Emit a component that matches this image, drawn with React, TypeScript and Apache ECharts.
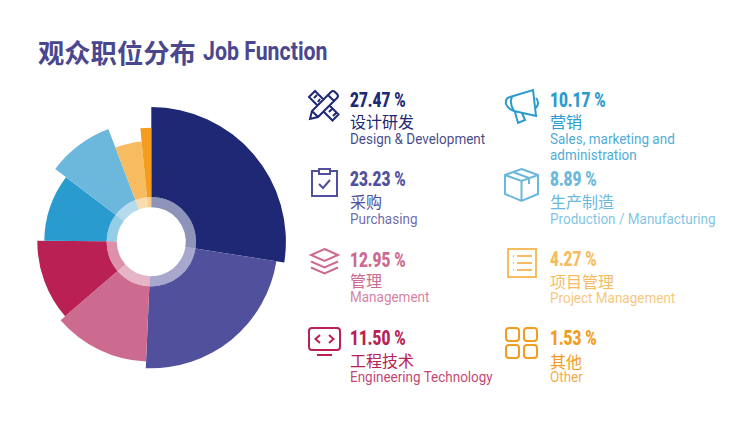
import React, { useEffect, useRef } from "react";
import * as echarts from "echarts";

const titleZh = "观众职位分布";
const titleEn = "Job Function";
const values = [27.47, 23.23, 12.95, 11.5, 10.17, 8.89, 4.27, 1.53];
const namesZh = ["设计研发", "采购", "管理", "工程技术", "营销", "生产制造", "项目管理", "其他"];
const namesEn = [
  "Design & Development",
  "Purchasing",
  "Management",
  "Engineering Technology",
  "Sales, marketing and\nadministration",
  "Production / Manufacturing",
  "Project Management",
  "Other",
];

const COLORS = ["#1E2875", "#51509C", "#CD6A8F", "#B92155", "#2A9BCE", "#6BB8DC", "#F6BC5F", "#F39C1E"];
const OUTER_R = [134.6, 126.6, 120, 114, 107, 120.5, 100.7, 114];
const CENTER = [151.3, 241.7];
const RING = [34.5, 44.7];
const LATIN = 'Roboto,sans-serif';
const CJK = '"Noto Sans CJK SC",sans-serif';

const rr = (x: number, y: number, w: number, h: number, r: number) =>
  `M${x + r} ${y}H${x + w - r}Q${x + w} ${y} ${x + w} ${y + r}V${y + h - r}Q${x + w} ${y + h} ${x + w - r} ${y + h}H${x + r}Q${x} ${y + h} ${x} ${y + h - r}V${y + r}Q${x} ${y} ${x + r} ${y}Z`;

const ICONS = [
  "M1 29L3 21L22 2Q24 0 26 2L28 4Q30 6 28 8L9 27ZM3 21L9 27M19 5L25 11M14.5 9.5L6 1L0 7L8.5 15.5M20.5 15.5L29.5 24.5L23.5 30.5L14.5 21.5M5 8L8 5M9 12L11 9M20 22L23 19M24 26L27 23",
  "M7 3H0V28H25V3H18M7 1H18V6H7ZM7 16L11 20L18 12",
  "M14.5 0L28 6L14.5 12L1 6ZM1 12.5L14.5 18.5L28 12.5M1 18.5L14.5 24.5L28 18.5",
  rr(0, 0, 31, 22, 3) + "M8 27H23M11 7L6.5 11L11 15M20 7L24.5 11L20 15",
  "M5 8L28 1L31 27L9 22Q3 20 1 15Q0 9 5 8ZM7 8Q4 14 9 22M10 23L13 34L20 31L17 24M31 9Q35 14 31 19",
  "M16.5 0L33 6V25L16.5 32L0 25V6ZM0 6L16.5 12L33 6M16.5 12V32M8 3L24 9V15",
  "M0 0H28V28H0ZM5 7H6M9 7H24M5 14H6M9 14H24M5 21H6M9 21H24",
  rr(0, 0, 13, 13, 3) + rr(18, 0, 13, 13, 3) + rr(0, 17, 13, 13, 3) + rr(18, 17, 13, 13, 3),
];
ICONS.forEach((d, i) => echarts.graphic.registerShape("jobIcon" + i, echarts.graphic.extendPath(d as any, {}) as any));

const ICON_POS = [[309, 90], [312, 168], [310, 249], [309, 328], [505, 89], [505, 169], [508, 249], [506, 328]];
const TEXT_POS = [
  [350, 100, 121, 139], [350, 179, 201, 219], [350, 260, 280, 297], [350, 338, 360, 377],
  [550, 100, 121, 147], [550, 179, 201, 219], [550, 259, 281, 298], [550, 338, 361, 377],
];

const baseData = (colorOf: (i: number) => string) =>
  values.map((value, i) => ({ value, name: namesEn[i], itemStyle: { color: colorOf(i) } }));

function App() {
  const ref = useRef<HTMLDivElement>(null);
  useEffect(() => {
    document.body.style.margin = "0";
    const chart = echarts.init(ref.current!, null, { renderer: "svg" });
    const pieBase = {
      type: "pie" as const,
      center: CENTER,
      startAngle: 90,
      clockwise: true,
      silent: true,
      avoidLabelOverlap: false,
      label: { show: false },
      labelLine: { show: false },
      emphasis: { disabled: true },
    };
    const texts: any[] = [
      { type: "text", x: 38, y: 51, silent: true, style: { text: titleZh, fill: "#4B478F", font: `bold 26.3px ${CJK}`, textVerticalAlign: "middle" } },
      { type: "text", x: 203, y: 51, scaleX: 0.82, silent: true, style: { text: titleEn, fill: "#4B478F", font: `bold 26px ${LATIN}`, textVerticalAlign: "middle" } },
    ];
    values.forEach((v, i) => {
      const [x, y1, y2, y3] = TEXT_POS[i];
      const c = COLORS[i];
      texts.push({ type: "jobIcon" + i, x: ICON_POS[i][0], y: ICON_POS[i][1], silent: true, style: { fill: "none", stroke: c, lineWidth: 2 } });
      texts.push({ type: "text", x, y: y1, scaleX: 0.77, silent: true, style: { text: v.toFixed(2) + " %", fill: c, font: `900 20px ${LATIN}`, textVerticalAlign: "middle" } });
      texts.push({ type: "text", x, y: y2, silent: true, style: { text: namesZh[i], fill: c, font: `400 16px ${CJK}`, textVerticalAlign: "middle" } });
      texts.push({ type: "text", x, y: y3, scaleX: 0.93, silent: true, style: { text: namesEn[i], fill: c, opacity: 0.85, font: `400 14.5px ${LATIN}`, lineHeight: 16, textVerticalAlign: "middle" } });
    });
    chart.setOption({
      animation: false,
      series: [
        ...values.map((_, k) => ({
          ...pieBase,
          radius: [RING[1], OUTER_R[k]],
          data: baseData((i) => (i === k ? COLORS[i] : "transparent")),
        })),
        {
          ...pieBase,
          radius: RING,
          data: values.map((value, i) => ({ value, name: namesEn[i], itemStyle: { color: COLORS[i], opacity: 0.5 } })),
        },
      ],
      graphic: { elements: texts },
    });
    return () => chart.dispose();
  }, []);
  return <div ref={ref} style={{ width: 740, height: 432 }} />;
}

export default App;
